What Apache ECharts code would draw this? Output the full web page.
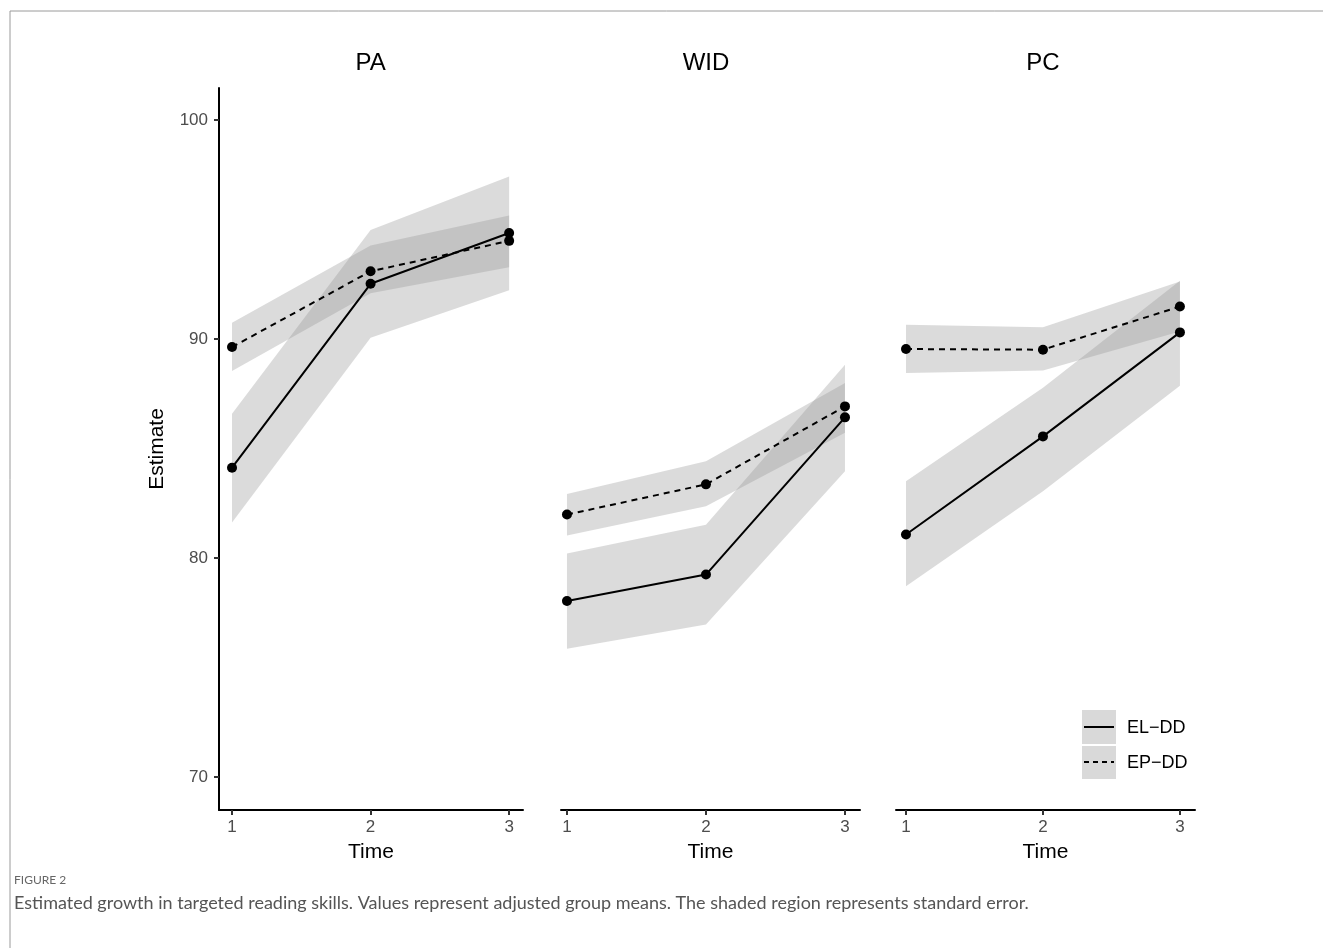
<!DOCTYPE html>
<html>
<head>
<meta charset="utf-8">
<script src="https://cdn.jsdelivr.net/npm/echarts@6/dist/echarts.min.js"></script>
<style>
  html, body { margin: 0; padding: 0; background: #fff; }
  #chart { width: 1323px; height: 948px; }
</style>
</head>
<body>
<div id="chart"></div>
<script>
// ---- data ----
const panels = ['PA', 'WID', 'PC'];
const times = [1, 2, 3];
const xTicks = [1, 2, 3];
const yTicks = [70, 80, 90, 100];
const groups = ['EL\u2212DD', 'EP\u2212DD'];

const PA_EL = [84.12, 92.52, 94.84];
const PA_EL_lo = [81.62, 90.06, 92.22];
const PA_EL_hi = [86.58, 94.98, 97.42];
const PA_EP = [89.63, 93.09, 94.48];
const PA_EP_lo = [88.54, 92.09, 93.28];
const PA_EP_hi = [90.74, 94.27, 95.64];

const WID_EL = [78.03, 79.24, 86.42];
const WID_EL_lo = [75.85, 76.96, 83.96];
const WID_EL_hi = [80.20, 81.52, 88.82];
const WID_EP = [81.98, 83.36, 86.92];
const WID_EP_lo = [81.02, 82.36, 85.72];
const WID_EP_hi = [82.92, 84.41, 87.99];

const PC_EL = [81.07, 85.55, 90.30];
const PC_EL_lo = [78.71, 83.05, 87.86];
const PC_EL_hi = [83.50, 87.77, 92.66];
const PC_EP = [89.54, 89.51, 91.48];
const PC_EP_lo = [88.44, 88.56, 90.34];
const PC_EP_hi = [90.65, 90.53, 92.62];

const panelData = [
  { el: PA_EL, elLo: PA_EL_lo, elHi: PA_EL_hi, ep: PA_EP, epLo: PA_EP_lo, epHi: PA_EP_hi },
  { el: WID_EL, elLo: WID_EL_lo, elHi: WID_EL_hi, ep: WID_EP, epLo: WID_EP_lo, epHi: WID_EP_hi },
  { el: PC_EL, elLo: PC_EL_lo, elHi: PC_EL_hi, ep: PC_EP, epLo: PC_EP_lo, epHi: PC_EP_hi }
];

// ---- layout ----
const gridBoxes = [
  { left: 219, width: 304, xmin: 0.906, xmax: 3.10 },
  { left: 561, width: 299, xmin: 0.957, xmax: 3.108 },
  { left: 896, width: 299, xmin: 0.927, xmax: 3.110 }
];
const GRID_TOP = 88, GRID_BOTTOM = 138;
const YMIN = 68.49, YMAX = 101.46;
const FONT = '"Liberation Sans", Arial, sans-serif';
const CAPFONT = 'Lato, "Open Sans", sans-serif';
const BAND = 'rgba(153,153,153,0.35)';

const grids = [], xAxes = [], yAxes = [], series = [], titleTexts = [];

function bandSeries(pi, lo, hi) {
  const data = times.map((t, i) => [t, lo[i], hi[i]]);
  return {
    type: 'custom', xAxisIndex: pi, yAxisIndex: pi, silent: true, z: 1,
    data: data,
    renderItem: function (params, api) {
      if (params.dataIndex !== 0) return null;
      const pts = [];
      for (let i = 0; i < data.length; i++) pts.push(api.coord([data[i][0], data[i][2]]));
      for (let i = data.length - 1; i >= 0; i--) pts.push(api.coord([data[i][0], data[i][1]]));
      return { type: 'polygon', shape: { points: pts }, style: { fill: BAND } };
    }
  };
}

panels.forEach((name, pi) => {
  const g = gridBoxes[pi];
  grids.push({ left: g.left, width: g.width, top: GRID_TOP, bottom: GRID_BOTTOM, containLabel: false });
  xAxes.push({
    type: 'value', gridIndex: pi, min: g.xmin, max: g.xmax,
    name: 'Time', nameLocation: 'middle', nameGap: 32,
    nameTextStyle: { fontFamily: FONT, fontSize: 21, color: '#000' },
    axisLine: { show: true, onZero: false, lineStyle: { color: '#000', width: 2 } },
    axisTick: { show: true, length: 5, customValues: xTicks, lineStyle: { color: '#333', width: 2 } },
    axisLabel: { show: true, customValues: xTicks, margin: 9, fontFamily: FONT, fontSize: 17, color: '#4d4d4d' },
    splitLine: { show: false }
  });
  yAxes.push({
    type: 'value', gridIndex: pi, min: YMIN, max: YMAX, show: pi === 0,
    name: pi === 0 ? 'Estimate' : '', nameLocation: 'middle', nameGap: 51, nameRotate: 90,
    nameTextStyle: { fontFamily: FONT, fontSize: 21, color: '#000' },
    axisLine: { show: true, onZero: false, lineStyle: { color: '#000', width: 2 } },
    axisTick: { show: true, length: 5, customValues: yTicks, lineStyle: { color: '#333', width: 2 } },
    axisLabel: { show: true, customValues: yTicks, margin: 11, fontFamily: FONT, fontSize: 17, color: '#4d4d4d' },
    splitLine: { show: false }
  });
  titleTexts.push({
    type: 'text',
    x: g.left + ((2 - g.xmin) / (g.xmax - g.xmin)) * g.width,
    y: 63,
    style: { text: name, font: '24px ' + FONT, fill: '#000', align: 'center', verticalAlign: 'middle' }
  });
  const d = panelData[pi];
  series.push(bandSeries(pi, d.epLo, d.epHi));
  series.push(bandSeries(pi, d.elLo, d.elHi));
  series.push({
    name: groups[0], type: 'line', xAxisIndex: pi, yAxisIndex: pi, z: 3,
    data: times.map((t, i) => [t, d.el[i]]),
    symbol: 'circle', symbolSize: 10, showSymbol: true,
    lineStyle: { color: '#000', width: 2, type: 'solid' },
    itemStyle: { color: '#000' }, animation: false
  });
  series.push({
    name: groups[1], type: 'line', xAxisIndex: pi, yAxisIndex: pi, z: 3,
    data: times.map((t, i) => [t, d.ep[i]]),
    symbol: 'circle', symbolSize: 10, showSymbol: true,
    lineStyle: { color: '#000', width: 2, type: [6, 5] },
    itemStyle: { color: '#000' }, animation: false
  });
});

const chart = echarts.init(document.getElementById('chart'), null, { renderer: 'canvas' });
chart.setOption({
  animation: false,
  backgroundColor: '#fff',
  grid: grids,
  xAxis: xAxes,
  yAxis: yAxes,
  series: series,
  graphic: titleTexts.concat([
    // frame lines
    { type: 'line', shape: { x1: 10, y1: 11, x2: 1323, y2: 11 }, style: { stroke: '#9a9a9a', lineWidth: 1 } },
    { type: 'line', shape: { x1: 10, y1: 11, x2: 10, y2: 948 }, style: { stroke: '#9a9a9a', lineWidth: 1 } },
    // legend
    { type: 'rect', shape: { x: 1082, y: 710, width: 34, height: 34 }, style: { fill: '#d9d9d9' } },
    { type: 'rect', shape: { x: 1082, y: 746, width: 34, height: 33 }, style: { fill: '#d9d9d9' } },
    { type: 'line', shape: { x1: 1084, y1: 727, x2: 1114, y2: 727 }, style: { stroke: '#000', lineWidth: 2 } },
    { type: 'line', shape: { x1: 1084, y1: 762, x2: 1114, y2: 762 }, style: { stroke: '#000', lineWidth: 2, lineDash: [5, 4] } },
    { type: 'text', x: 1127, y: 728, style: { text: groups[0], font: '18px ' + FONT, fill: '#000', verticalAlign: 'middle' } },
    { type: 'text', x: 1127, y: 763, style: { text: groups[1], font: '18px ' + FONT, fill: '#000', verticalAlign: 'middle' } },
    // caption
    { type: 'text', x: 14, y: 880, style: { text: 'FIGURE 2', font: '12px ' + CAPFONT, fill: '#666', verticalAlign: 'middle' } },
    { type: 'text', x: 14, y: 903, style: { text: 'Estimated growth in targeted reading skills. Values represent adjusted group means. The shaded region represents standard error.', font: '18px ' + CAPFONT, fill: '#555', verticalAlign: 'middle' } }
  ])
});
</script>
</body>
</html>
